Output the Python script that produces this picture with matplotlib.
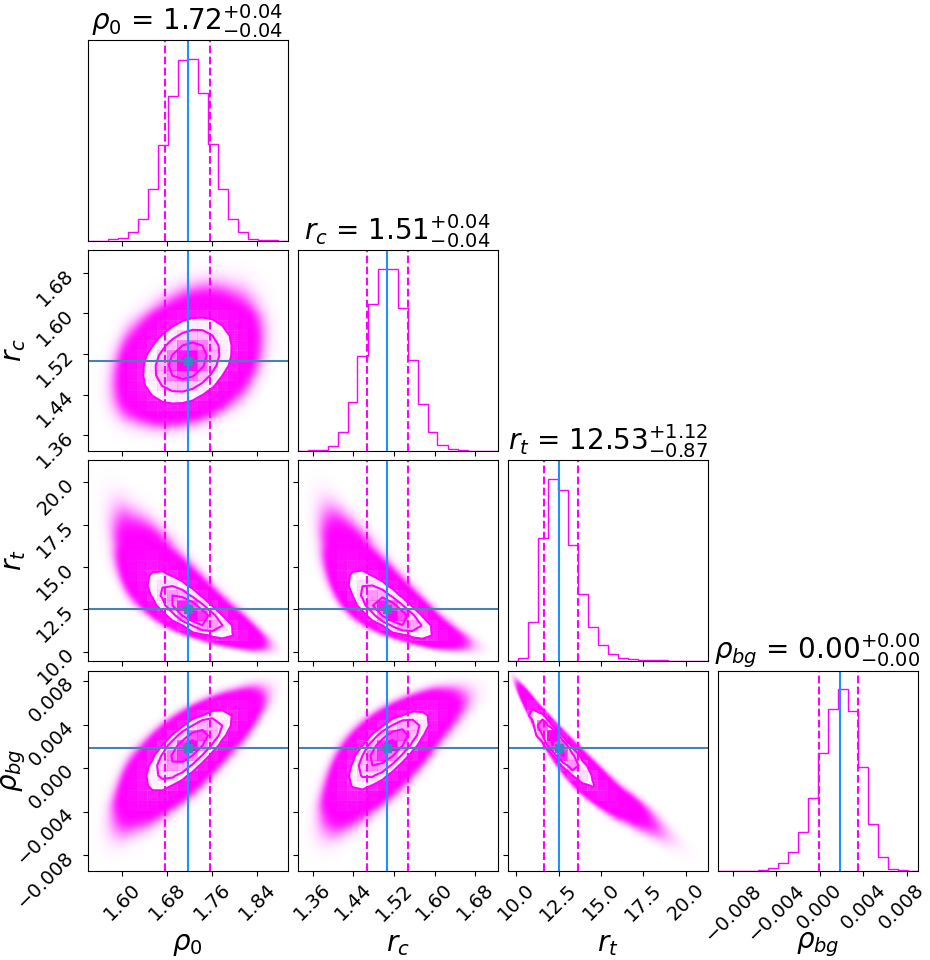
import math
import numpy as np
import matplotlib
matplotlib.use("Agg")
import matplotlib.pyplot as plt
from matplotlib.colors import LinearSegmentedColormap
from matplotlib.ticker import FixedLocator, NullLocator
from matplotlib.transforms import ScaledTranslation

# ---------------- data ----------------
labels = [r"$\rho_0$", r"$r_c$", r"$r_t$", r"$\rho_{bg}$"]
ranges = [(1.539, 1.894), (1.330, 1.724), (9.47, 21.30), (-0.00942, 0.00898)]

# 1D histogram counts (20 bins over each range, arbitrary units)
hist_rho0 = [0, 0, 4, 6, 24, 64, 155, 287, 434, 540, 545, 443, 290, 153, 63, 26, 5, 2, 1, 0]
hist_rc = [0, 1, 2, 14, 56, 144, 282, 437, 542, 540, 424, 270, 139, 56, 15, 4, 1, 0, 0, 0]
hist_rt = [0, 8, 116, 366, 542, 509, 344, 197, 99, 46, 19, 7, 3, 2, 1, 1, 0, 0, 0, 0]
hist_rbg = [0, 0, 0, 0, 2, 6, 21, 56, 115, 216, 351, 482, 543, 476, 308, 140, 39, 5, 1, 0]
hists = [hist_rho0, hist_rc, hist_rt, hist_rbg]

# summary numbers (titles), quantile lines and truth lines
medians = [1.72, 1.51, 12.53, 0.00]
err_lo = [0.04, 0.04, 0.87, 0.00]
err_hi = [0.04, 0.04, 1.12, 0.00]
q16 = [1.676, 1.466, 11.63, -0.00012]
q84 = [1.756, 1.547, 13.62, 0.00354]
truths = [1.717, 1.507, 12.53, 0.00184]

# pairwise correlations (row param, column param)
corr = {(1, 0): 0.30, (2, 0): -0.80, (2, 1): -0.80,
        (3, 0): 0.78, (3, 1): 0.75, (3, 2): -0.96}

# ticks
ticks = [[1.60, 1.68, 1.76, 1.84],
         [1.36, 1.44, 1.52, 1.60, 1.68],
         [10.0, 12.5, 15.0, 17.5, 20.0],
         [-0.008, -0.004, 0.000, 0.004, 0.008]]
tick_labels = [["1.60", "1.68", "1.76", "1.84"],
               ["1.36", "1.44", "1.52", "1.60", "1.68"],
               ["10.0", "12.5", "15.0", "17.5", "20.0"],
               ["\u22120.008", "\u22120.004", "0.000", "0.004", "0.008"]]

N_SAMPLES = 1.5e6
# ---------------------------------------------------------------

COLOR = "magenta"
TRUTH = "#4682b4"
VLINE = "#1e90ff"
NB = 20
NF = 200
U_EXT = 5.0
LEVELS = 1.0 - np.exp(-0.5 * np.arange(0.5, 2.1, 0.5) ** 2)

ZT = np.linspace(-6.5, 6.5, 26001)
PHI = 0.5 * (1.0 + np.array([math.erf(z / math.sqrt(2.0)) for z in ZT]))


def transform(k):
    lo, hi = ranges[k]
    counts = np.asarray(hists[k], float)
    F = np.concatenate([[0.0], np.cumsum(counts)]) / counts.sum()
    u = np.interp(np.clip(F, PHI[0], PHI[-1]), PHI, ZT)
    ok = (F > 2e-3) & (F < 1 - 2e-3)
    ok[0] = ok[-1] = True
    u[0], u[-1] = -U_EXT, U_EXT
    edges = np.linspace(lo, hi, NB + 1)
    ue = np.interp(edges, edges[ok], u[ok])
    fe = np.linspace(lo, hi, NF + 1)
    xf = 0.5 * (fe[1:] + fe[:-1])
    uf = np.interp(xf, edges, ue)
    pad = 5
    left = uf[0] - (uf[1] - uf[0]) * np.arange(pad, 0, -1)
    right = uf[-1] + (uf[-1] - uf[-2]) * np.arange(1, pad + 1)
    us = np.convolve(np.concatenate([left, uf, right]), np.ones(2 * pad + 1) / (2 * pad + 1), mode="valid")
    du = np.gradient(us, xf)
    return xf, us, du, edges


TR = [transform(k) for k in range(4)]

fig = plt.figure(figsize=(9.3, 9.6), dpi=100)
W, Hfig = 930.0, 960.0
left0, top0, size, gap = 87.5, 40.5, 200.0, 10.0

density_cmap = LinearSegmentedColormap.from_list("density_cmap", [COLOR, (1, 1, 1, 0)])
white_cmap = LinearSegmentedColormap.from_list("white_cmap", [(1, 1, 1), (1, 1, 1)], N=2)
rgba = np.array(matplotlib.colors.to_rgba(COLOR))

TICK_FS = 14
LABEL_FS = 20
TITLE_FS = 20

axes = {}
for i in range(4):
    for j in range(i + 1):
        x0 = (left0 + j * (size + gap)) / W
        y0 = 1 - (top0 + i * (size + gap) + size) / Hfig
        ax = fig.add_axes([x0, y0, size / W, size / Hfig])
        axes[(i, j)] = ax

for i in range(4):
    for j in range(i + 1):
        ax = axes[(i, j)]
        if i == j:
            edges = TR[i][3]
            centers = 0.5 * (edges[1:] + edges[:-1])
            ax.hist(centers, bins=edges, weights=hists[i], histtype="step", color=COLOR)
            ax.set_ylim(0, 1.1 * max(hists[i]))
            ax.set_xlim(ranges[i])
            ax.yaxis.set_major_locator(NullLocator())
            for q in (q16[i], q84[i]):
                ax.axvline(q, ls="--", color=COLOR, lw=1.5)
            ax.axvline(truths[i], color=VLINE, lw=1.5)
            ax.set_title(f"{labels[i]} = ${medians[i]:.2f}_{{-{err_lo[i]:.2f}}}^{{+{err_hi[i]:.2f}}}$",
                         fontsize=TITLE_FS)
        else:
            xf, ux, dux, xe = TR[j]
            yf, uy, duy, ye = TR[i]
            rho = corr[(i, j)]
            U, V = np.meshgrid(ux, uy)
            q = (U ** 2 - 2 * rho * U * V + V ** 2) / (1 - rho ** 2)
            dens = np.exp(-0.5 * q) / (2 * np.pi * np.sqrt(1 - rho ** 2))
            dx = xf[1] - xf[0]
            dy = yf[1] - yf[0]
            mass = dens * dux[None, :] * duy[:, None] * dx * dy  # [y, x]
            # data points cloud (alpha-stacked markers)
            px_area = (size / NF) * (size / NF)
            lam = N_SAMPLES * mass * 6.06 / px_area
            op = 1 - np.exp(-0.1 * lam)
            img = np.zeros(op.shape + (4,))
            img[..., 0] = rgba[0]
            img[..., 1] = rgba[1]
            img[..., 2] = rgba[2]
            img[..., 3] = np.clip(op, 0, 1)
            ax.imshow(img, extent=(ranges[j][0], ranges[j][1], ranges[i][0], ranges[i][1]),
                      origin="lower", aspect="auto", zorder=-1, interpolation="bilinear")
            # 2D histogram like corner
            f = NF // NB
            H = mass.reshape(NB, f, NB, f).sum(axis=(1, 3)).T  # [xbin, ybin]
            X, Y = xe, ye
            Hflat = H.flatten()
            inds = np.argsort(Hflat)[::-1]
            Hflat = Hflat[inds]
            sm = np.cumsum(Hflat)
            sm /= sm[-1]
            Vl = np.empty(len(LEVELS))
            for k, v0 in enumerate(LEVELS):
                try:
                    Vl[k] = Hflat[sm <= v0][-1]
                except IndexError:
                    Vl[k] = Hflat[0]
            Vl.sort()
            X1, Y1 = 0.5 * (X[1:] + X[:-1]), 0.5 * (Y[1:] + Y[:-1])
            H2 = H.min() + np.zeros((H.shape[0] + 4, H.shape[1] + 4))
            H2[2:-2, 2:-2] = H
            H2[2:-2, 1] = H[:, 0]
            H2[2:-2, -2] = H[:, -1]
            H2[1, 2:-2] = H[0]
            H2[-2, 2:-2] = H[-1]
            H2[1, 1] = H[0, 0]
            H2[1, -2] = H[0, -1]
            H2[-2, 1] = H[-1, 0]
            H2[-2, -2] = H[-1, -1]
            X2 = np.concatenate([X1[0] + np.array([-2, -1]) * np.diff(X1[:2]), X1,
                                 X1[-1] + np.array([1, 2]) * np.diff(X1[-2:])])
            Y2 = np.concatenate([Y1[0] + np.array([-2, -1]) * np.diff(Y1[:2]), Y1,
                                 Y1[-1] + np.array([1, 2]) * np.diff(Y1[-2:])])
            ax.contourf(X2, Y2, H2.T, [Vl.min(), H.max()], cmap=white_cmap, antialiased=False)
            ax.pcolor(X, Y, H.max() - H.T, cmap=density_cmap)
            ax.contour(X2, Y2, H2.T, Vl, colors=COLOR, linewidths=1.5)
            ax.set_xlim(ranges[j])
            ax.set_ylim(ranges[i])
            for qv in (q16[j], q84[j]):
                ax.axvline(qv, ls="--", color=COLOR, lw=1.5)
            ax.axhline(truths[i], color=TRUTH, lw=1.5)
            ax.plot(truths[j], truths[i], "s", color=TRUTH)
            ax.axvline(truths[j], color=VLINE, lw=1.5)
            ax.yaxis.set_major_locator(FixedLocator(ticks[i]))
            if j == 0:
                ax.set_yticklabels(tick_labels[i], rotation=45, fontsize=TICK_FS)
                ax.set_ylabel(labels[i], fontsize=LABEL_FS)
                ax.yaxis.set_label_coords(-0.3, 0.5)
            else:
                ax.set_yticklabels([])
        ax.xaxis.set_major_locator(FixedLocator(ticks[j]))
        if i == 3:
            ax.set_xticklabels(tick_labels[j], rotation=45, fontsize=TICK_FS)
            ax.set_xlabel(labels[j], fontsize=LABEL_FS)
            ax.xaxis.set_label_coords(0.5, -0.3)
        else:
            ax.set_xticklabels([])

# keep the right-most tick label inside the canvas
last = axes[(3, 3)].get_xticklabels()[-1]
last.set_transform(last.get_transform() + ScaledTranslation(-5 / 100.0, 0, fig.dpi_scale_trans))

fig.savefig("out.png", dpi=100)
